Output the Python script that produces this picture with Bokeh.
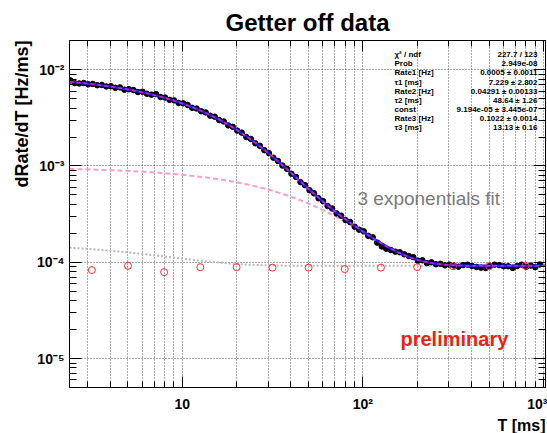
import math
import numpy as np
from bokeh.plotting import figure
from bokeh.models import FixedTicker, LogAxis, Label, Title
from bokeh.embed import file_html
from bokeh.resources import INLINE

# bin centres [ms] of the measured decay spectrum
t_ms = [
    2.399, 2.541, 2.692, 2.851, 3.020, 3.199, 3.388, 3.589, 3.802, 4.027,
    4.266, 4.519, 4.786, 5.070, 5.370, 5.689, 6.026, 6.383, 6.761, 7.161,
    7.586, 8.035, 8.511, 9.016, 9.550, 10.12, 10.72, 11.35, 12.02, 12.74,
    13.49, 14.29, 15.14, 16.03, 16.98, 17.99, 19.05, 20.18, 21.38, 22.65,
    23.99, 25.41, 26.92, 28.51, 30.20, 31.99, 33.88, 35.89, 38.02, 40.27,
    42.66, 45.19, 47.86, 50.70, 53.70, 56.89, 60.26, 63.83, 67.61, 71.61,
    75.86, 80.35, 85.11, 90.16, 95.50, 101.2, 107.2, 113.5, 120.2, 127.4,
    134.9, 142.9, 151.4, 160.3, 169.8, 179.9, 190.5, 201.8, 213.8, 226.5,
    239.9, 254.1, 269.2, 285.1, 302.0, 319.9, 338.8, 358.9, 380.2, 402.7,
    426.6, 451.9, 478.6, 507.0, 537.0, 568.9, 602.6, 638.3, 676.1, 716.1,
    758.6, 803.5, 851.1, 901.6, 955.0,
]

# dRate/dT in units of 1e-3 Hz/ms
rate_e3 = [
    7.75, 7.25, 7.20, 7.28, 7.05, 7.12, 6.90, 6.95, 6.70, 6.74,
    6.48, 6.55, 6.20, 6.27, 6.15, 5.86, 5.90, 5.62, 5.50, 5.58,
    5.20, 5.14, 4.86, 4.80, 4.52, 4.47, 4.30, 4.02, 3.95, 3.70,
    3.60, 3.33, 3.25, 3.00, 2.90, 2.64, 2.55, 2.33, 2.22, 2.00,
    1.91, 1.72, 1.62, 1.46, 1.36, 1.22, 1.13, 1.01, 0.935, 0.830,
    0.770, 0.680, 0.632, 0.560, 0.520, 0.462, 0.432, 0.384, 0.362, 0.322,
    0.305, 0.274, 0.262, 0.234, 0.218, 0.210, 0.188, 0.182, 0.160, 0.146,
    0.138, 0.134, 0.129, 0.127, 0.121, 0.116, 0.113, 0.104, 0.105, 0.098,
    0.100, 0.0955, 0.0965, 0.0930, 0.0945, 0.0925, 0.0900, 0.0935, 0.0945, 0.0915,
    0.0895, 0.0880, 0.0870, 0.0920, 0.0945, 0.0935, 0.0910, 0.0910, 0.0875, 0.0915,
    0.0945, 0.0900, 0.0925, 0.0890, 0.0950,
]
rate = [v * 1e-3 for v in rate_e3]

# background reference points (open red circles)
bkg_t = [3.16, 5.01, 7.94, 12.6, 20.0, 31.6, 50.1, 79.4, 126.0, 200.0, 316.0, 501.0, 794.0]
bkg_rate = [8.3e-5, 9.2e-5, 7.9e-5, 8.9e-5, 8.9e-5, 8.8e-5, 8.8e-5, 8.5e-5,
            8.8e-5, 8.9e-5, 9.1e-5, 9.1e-5, 9.2e-5]

# fit result: const + sum_i Rate_i/tau_i * exp(-t/tau_i)
rate1, tau1 = 0.0005, 7.229
rate2, tau2 = 0.04291, 48.64
rate3, tau3 = 0.1022, 13.13
const = 9.194e-05

stat_names = ["χ² / ndf", "Prob", "Rate1 [Hz]", "τ1 [ms]", "Rate2 [Hz]",
              "τ2 [ms]", "const", "Rate3 [Hz]", "τ3 [ms]"]
stat_values = ["227.7 / 123", "2.949e-08", "0.0005 ± 0.0011", "7.229 ± 2.802",
               "0.04291 ± 0.00133", "48.64 ± 1.26", "9.194e-05 ± 3.445e-07",
               "0.1022 ± 0.0014", "13.13 ± 0.16"]

x_major = [10, 100, 1000]
x_labels = ["10", "10²", "10³"]
y_major = [1e-5, 1e-4, 1e-3, 1e-2]
y_labels = ["10⁻⁵", "10⁻⁴", "10⁻³", "10⁻²"]

FONT = "Liberation Sans"
W, H = 547, 433
FL, FR, FT, FB = 69, 545, 40, 388   # frame edges in canvas pixels


def sx(px):
    return px - FL


def sy(py):
    return FB - py


def expo(rt, tau, t):
    return rt / tau * np.exp(-t / tau)


p = figure(width=W, height=H, x_axis_type="log", y_axis_type="log",
           x_range=(2.377, 1027.0), y_range=(5.01e-6, 0.0201),
           output_backend="svg", toolbar_location=None,
           min_border_left=FL, min_border_right=W - FR,
           min_border_top=FT, min_border_bottom=H - FB)
p.background_fill_color = "white"
p.border_fill_color = "white"
p.outline_line_color = "black"
p.outline_line_width = 1

p.title.text = "Getter off data"
p.title.align = "center"
p.title.vertical_align = "middle"
p.title.text_font = FONT
p.title.text_font_style = "bold"
p.title.text_font_size = "24px"
p.title.text_color = "black"
p.title.standoff = 8

x_minor = [m * 10 ** e for e in range(0, 3) for m in range(2, 10)]
y_minor = [m * 10.0 ** e for e in range(-6, -1) for m in range(2, 10)]
xt = FixedTicker(ticks=x_major, minor_ticks=x_minor)
yt = FixedTicker(ticks=y_major, minor_ticks=y_minor)

p.xaxis.ticker = xt
p.yaxis.ticker = yt
p.xaxis.major_label_overrides = dict(zip(x_major, x_labels))
p.yaxis.major_label_overrides = dict(zip(y_major, y_labels))

top_ax = LogAxis(ticker=xt, major_label_overrides={v: "" for v in x_major})
right_ax = LogAxis(ticker=yt, major_label_overrides={v: "" for v in y_major})
p.add_layout(top_ax, "above")
p.add_layout(right_ax, "right")
for ax in (top_ax, right_ax):
    ax.major_label_text_font_size = "0px"
    ax.major_label_standoff = 0

for ax in p.axis:
    ax.axis_line_color = "black"
    ax.major_tick_line_color = "black"
    ax.minor_tick_line_color = "black"
    ax.major_tick_out = 0
    ax.minor_tick_out = 0
    ax.major_label_text_font = FONT
    ax.major_label_text_font_style = "bold"
    ax.major_label_text_color = "black"
for ax in p.xaxis:
    ax.major_tick_in = 11
    ax.minor_tick_in = 6
for ax in p.yaxis:
    ax.major_tick_in = 12
    ax.minor_tick_in = 7

xax = p.below[0]
yax = p.left[0]
xax.major_label_text_font_size = "14px"
xax.major_label_standoff = 8
yax.major_label_text_font_size = "14px"
yax.major_label_standoff = 5

# axis titles, right/top aligned along the axes
p.add_layout(Title(text="T [ms]", align="right", text_font=FONT,
                   text_font_style="bold", text_font_size="16px",
                   text_color="black", standoff=0), "below")
p.add_layout(Title(text="dRate/dT [Hz/ms]", align="right", text_font=FONT,
                   text_font_style="bold", text_font_size="18px",
                   text_color="black", standoff=6), "left")

p.xgrid.grid_line_color = "#555555"
p.xgrid.grid_line_dash = "1 2"
p.xgrid.minor_grid_line_color = "#555555"
p.xgrid.minor_grid_line_dash = "1 2"
p.ygrid.grid_line_color = "#555555"
p.ygrid.grid_line_dash = "1 2"

# fit curves drawn from the fitted parameters
t_fit = np.logspace(math.log10(2.377), math.log10(1027.0), 500)
slow = const + expo(rate1, tau1, t_fit)
mid = const + expo(rate2, tau2, t_fit)
full = const + expo(rate1, tau1, t_fit) + expo(rate2, tau2, t_fit) + expo(rate3, tau3, t_fit)

p.line(t_fit, slow, line_color="#b8b8b8", line_width=2, line_dash="2 2")
p.line(t_fit, mid, line_color="#ff9ccb", line_width=2, line_dash="5 3")

p.scatter(t_ms, rate, size=5.5, marker="circle", fill_color="black", line_color="black")

p.line(t_fit, full, line_color="#1a1aff", line_width=2.5)
p.line(t_fit, full, line_color="#ee2288", line_width=1.5, line_dash="4 3")

p.scatter(bkg_t, bkg_rate, size=7, marker="circle", fill_color=None,
          line_color="#ff2a2a", line_width=1)

# annotations inside the frame
p.add_layout(Label(x=sx(357), y=sy(199), x_units="screen", y_units="screen",
                   text="3 exponentials fit", text_font=FONT,
                   text_font_size="19px", text_align="left",
                   text_baseline="alphabetic", text_color="#7a7a7a"))
p.add_layout(Label(x=sx(400), y=sy(339), x_units="screen", y_units="screen",
                   text="preliminary", text_font=FONT, text_font_style="bold",
                   text_font_size="20px", text_align="left",
                   text_baseline="alphabetic", text_color="#ee2211"))

# fit statistics
row0, row_h = 55.0, 9.18
for i, (name, val) in enumerate(zip(stat_names, stat_values)):
    yy = sy(row0 + i * row_h)
    p.add_layout(Label(x=sx(394), y=yy, x_units="screen", y_units="screen",
                       text=name, text_font=FONT, text_font_style="bold",
                       text_font_size="8px", text_align="left",
                       text_baseline="middle", text_color="black"))
    p.add_layout(Label(x=sx(537), y=yy, x_units="screen", y_units="screen",
                       text=val, text_font=FONT, text_font_style="bold",
                       text_font_size="8px", text_align="right",
                       text_baseline="middle", text_color="black"))

open("out.html", "w").write(file_html(p, INLINE))
